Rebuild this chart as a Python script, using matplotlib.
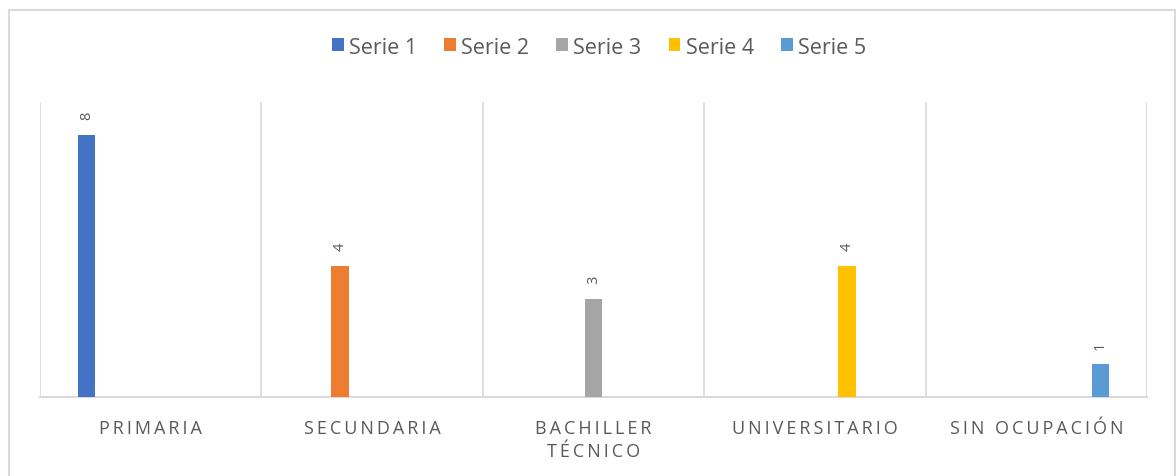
import matplotlib.pyplot as plt
from matplotlib.patches import Rectangle
import numpy as np

categories = ['PRIMARIA', 'SECUNDARIA', 'BACHILLER\nTÉCNICO', 'UNIVERSITARIO', 'SIN OCUPACIÓN']
series_names = ['Serie 1', 'Serie 2', 'Serie 3', 'Serie 4', 'Serie 5']
serie1 = [8, 0, 0, 0, 0]
serie2 = [0, 4, 0, 0, 0]
serie3 = [0, 0, 3, 0, 0]
serie4 = [0, 0, 0, 4, 0]
serie5 = [0, 0, 0, 0, 1]

colors = ['#4472C4', '#ED7D31', '#A5A5A5', '#FFC000', '#5B9BD5']
text_color = '#595959'
grid_color = '#D9D9D9'
fonts = ['Open Sans', 'DejaVu Sans']


def spaced(s):
    # fake letter spacing like the Office chart
    return '\n'.join('\u2009'.join(line) for line in s.split('\n'))


plt.rcParams['font.family'] = fonts
fig = plt.figure(figsize=(11.76, 4.77), dpi=100)
ax = fig.add_axes([40 / 1176, 79 / 477, 1107 / 1176, 295 / 477])

x = np.arange(len(categories))
step = 0.145
width = 0.078
all_series = [serie1, serie2, serie3, serie4, serie5]
for i, (name, vals) in enumerate(zip(series_names, all_series)):
    pos = x + (i - 2) * step
    bars = ax.bar(pos, vals, width, color=colors[i], label=name, zorder=3)
    for b, v in zip(bars, vals):
        if v > 0:
            ax.text(b.get_x() + b.get_width() / 2, v + 0.47, str(v), rotation=90,
                    ha='center', va='bottom', fontsize=10.5, color=text_color)

ax.set_xlim(-0.5, len(categories) - 0.5)
ax.set_ylim(0, 9)
ax.set_yticks([])
ax.set_xticks(x)
ax.set_xticklabels([spaced(c) for c in categories], fontsize=13, color=text_color,
                   linespacing=1.35)
ax.tick_params(axis='x', length=0, pad=16)
ax.set_xticks(np.arange(-0.5, len(categories)), minor=True)
ax.tick_params(axis='x', which='minor', length=0)
ax.grid(axis='x', which='minor', color=grid_color, lw=1.2)
for s in ['top', 'left', 'right']:
    ax.spines[s].set_visible(False)
ax.spines['bottom'].set_color(grid_color)
ax.spines['bottom'].set_linewidth(1.5)

fig.legend(loc='center', bbox_to_anchor=(599 / 1176, 1 - 48 / 477), ncol=5, frameon=False,
           fontsize=15.5, handlelength=0.55, handleheight=0.55, handletextpad=0.25,
           columnspacing=1.25, labelcolor=text_color)

fig.patches.append(Rectangle((9 / 1176, -0.1), 1166 / 1176, 1.1 - 11 / 477,
                             transform=fig.transFigure, fill=False,
                             edgecolor=grid_color, lw=1.5))

fig.savefig('out.png', dpi=100)
